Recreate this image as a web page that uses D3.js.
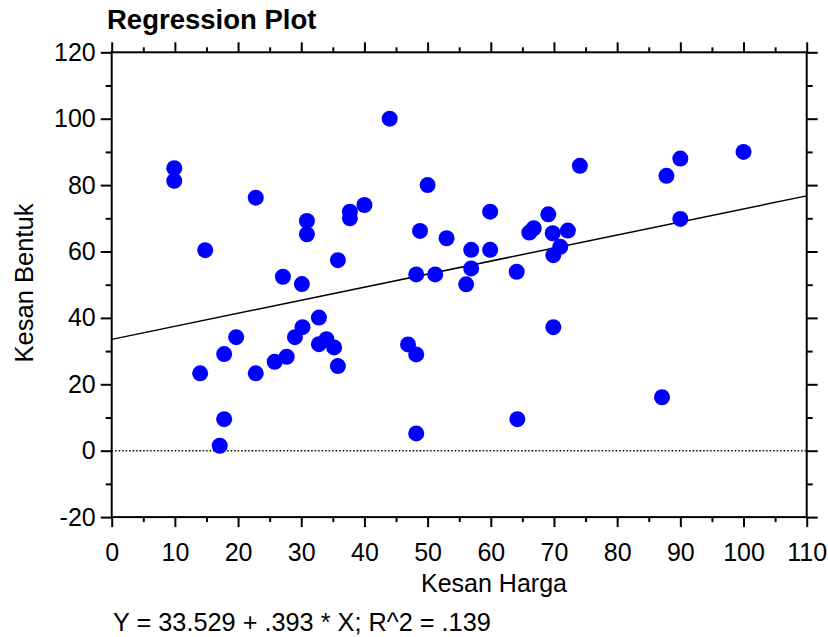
<html>
<head>
    <meta charset="utf-8">
    <title>Regression Plot</title>
    <style>
        body { margin: 0; background: white; }
        text { font-family: "Liberation Sans", Arial, sans-serif; fill: black; }
        .tick text { font-size: 25px; }
        .tick line { stroke: black; stroke-width: 2; }
    </style>
    <script src="https://cdn.jsdelivr.net/npm/d3@7"></script>
</head>
<body>
<div id="chart"></div>
<script>
    // Kesan Harga (x) and Kesan Bentuk (y)
    var kesanHarga = [9.9, 9.9, 22.8, 30.9, 30.9, 14.8, 35.8, 27.1, 30.1, 32.8,
        30.2, 29.0, 19.7, 32.8, 34.0, 35.2, 17.8, 27.7, 25.8, 35.8,
        14.0, 22.8, 17.8, 17.1, 44.0, 50.0, 40.0, 37.7, 37.7, 74.1,
        59.9, 69.1, 48.8, 53.0, 66.1, 66.8, 69.8, 72.2, 71.0, 69.9,
        56.9, 59.9, 56.9, 64.1, 48.2, 51.2, 56.1, 69.9, 46.9, 48.2,
        64.2, 48.2, 100.0, 90.0, 87.8, 90.0, 87.1];
    var kesanBentuk = [85.1, 81.3, 76.2, 69.2, 65.2, 60.4, 57.4, 52.4, 50.2, 40.1,
        37.2, 34.2, 34.2, 32.1, 33.6, 31.1, 29.1, 28.3, 26.8, 25.5,
        23.3, 23.3, 9.5, 1.5, 100.0, 80.0, 74.0, 72.0, 70.0, 85.8,
        72.0, 71.2, 66.2, 64.0, 65.7, 67.0, 65.5, 66.3, 61.4, 58.9,
        60.5, 60.5, 54.9, 53.9, 53.1, 53.1, 50.1, 37.2, 32.0, 29.0,
        9.5, 5.2, 90.0, 88.0, 82.8, 69.8, 16.1];
    var xTicks = [0, 10, 20, 30, 40, 50, 60, 70, 80, 90, 100, 110];
    var yTicks = [-20, 0, 20, 40, 60, 80, 100, 120];
    var intercept = 33.529, slope = 0.393, rSquared = 0.139;

    var width = 828, height = 637;
    var mLeft = 111.7, mTop = 52.3, plotW = 695, plotH = 464.8;

    var svg = d3.select('#chart').append('svg')
        .attr('width', width)
        .attr('height', height);

    var x = d3.scaleLinear().domain([0, 110]).range([mLeft, mLeft + plotW]);
    var y = d3.scaleLinear().domain([-20, 120]).range([mTop + plotH, mTop]);

    var xMinor = d3.range(5, 110, 10);
    var yMinor = d3.range(-10, 120, 20);
    var plain = function(d) { return String(d); };   // keep hyphen-minus like the original

    function noDomain(g) { g.select('.domain').remove(); }

    // bottom axis with labels
    svg.append('g').attr('transform', 'translate(0,' + (mTop + plotH) + ')')
        .call(d3.axisBottom(x).tickValues(xTicks).tickSize(10).tickPadding(16).tickFormat(plain))
        .call(noDomain);
    svg.append('g').attr('transform', 'translate(0,' + (mTop + plotH) + ')')
        .call(d3.axisBottom(x).tickValues(xMinor).tickSize(5).tickFormat(''))
        .call(noDomain);
    // top axis ticks
    svg.append('g').attr('transform', 'translate(0,' + mTop + ')')
        .call(d3.axisTop(x).tickValues(xTicks).tickSize(10).tickFormat(''))
        .call(noDomain);
    svg.append('g').attr('transform', 'translate(0,' + mTop + ')')
        .call(d3.axisTop(x).tickValues(xMinor).tickSize(5).tickFormat(''))
        .call(noDomain);
    // left axis with labels
    svg.append('g').attr('transform', 'translate(' + mLeft + ',0)')
        .call(d3.axisLeft(y).tickValues(yTicks).tickSize(11).tickPadding(5).tickFormat(plain))
        .call(noDomain);
    svg.append('g').attr('transform', 'translate(' + mLeft + ',0)')
        .call(d3.axisLeft(y).tickValues(yMinor).tickSize(6).tickFormat(''))
        .call(noDomain);
    // right axis ticks
    svg.append('g').attr('transform', 'translate(' + (mLeft + plotW) + ',0)')
        .call(d3.axisRight(y).tickValues(yTicks).tickSize(11).tickFormat(''))
        .call(noDomain);
    svg.append('g').attr('transform', 'translate(' + (mLeft + plotW) + ',0)')
        .call(d3.axisRight(y).tickValues(yMinor).tickSize(6).tickFormat(''))
        .call(noDomain);

    // frame
    svg.append('rect')
        .attr('x', mLeft).attr('y', mTop)
        .attr('width', plotW).attr('height', plotH)
        .attr('fill', 'none').attr('stroke', 'black').attr('stroke-width', 2);

    // zero line
    svg.append('line')
        .attr('x1', x(0)).attr('x2', x(110))
        .attr('y1', y(0)).attr('y2', y(0))
        .attr('stroke', 'black').attr('stroke-width', 1.5)
        .attr('stroke-dasharray', '1.5,2');

    // regression line
    svg.append('line')
        .attr('x1', x(0)).attr('y1', y(intercept))
        .attr('x2', x(110)).attr('y2', y(intercept + slope * 110))
        .attr('stroke', 'black').attr('stroke-width', 1.5);

    // points
    svg.append('g').selectAll('circle')
        .data(d3.range(kesanHarga.length))
        .join('circle')
        .attr('cx', function(i) { return x(kesanHarga[i]); })
        .attr('cy', function(i) { return y(kesanBentuk[i]); })
        .attr('r', 8)
        .attr('fill', '#0000ff');

    // texts
    svg.append('text')
        .attr('x', 107).attr('y', 29)
        .style('font-size', '27.5px').style('font-weight', 'bold')
        .text('Regression Plot');

    svg.append('text')
        .attr('x', 494).attr('y', 592)
        .attr('text-anchor', 'middle')
        .style('font-size', '25px')
        .text('Kesan Harga');

    svg.append('text')
        .attr('transform', 'translate(33,283) rotate(-90)')
        .attr('text-anchor', 'middle')
        .style('font-size', '25.5px')
        .text('Kesan Bentuk');

    svg.append('text')
        .attr('x', 113).attr('y', 631)
        .style('font-size', '25.3px')
        .text('Y = ' + intercept + ' + ' + d3.format('.3f')(slope).replace(/^0/, '') +
            ' * X; R^2 = ' + d3.format('.3f')(rSquared).replace(/^0/, ''));
</script>
</body>
</html>
